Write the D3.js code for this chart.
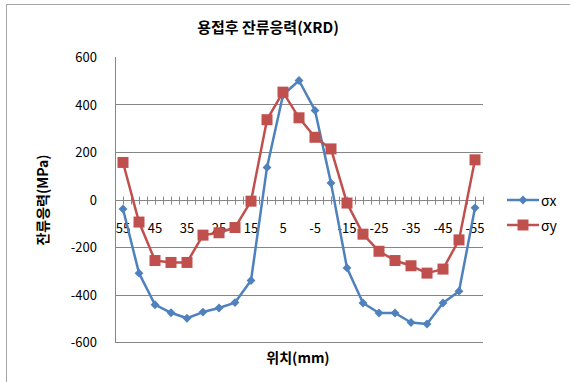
<!DOCTYPE html>
<html>
<head>
<meta charset="utf-8">
<script src="https://cdn.jsdelivr.net/npm/d3@7"></script>
<style>
  body { margin: 0; background: #fff; }
  svg { font-family: "Noto Sans CJK KR", "DejaVu Sans", sans-serif; }
</style>
</head>
<body>
<div id="chart"></div>
<script>
// positions in mm, 5 mm step
const positions = [55, 50, 45, 40, 35, 30, 25, 20, 15, 10, 5, 0, -5, -10, -15, -20, -25, -30, -35, -40, -45, -50, -55];
const sigmaX = [-40, -310, -443, -477, -500, -474, -457, -434, -341, 135, 440, 501, 375, 69, -288, -436, -478, -478, -518, -524, -436, -386, -35];
const sigmaY = [156, -95, -257, -265, -265, -150, -140, -118, -7, 336, 452, 344, 262, 213, -15, -146, -218, -257, -279, -310, -293, -170, 167];
const yTicks = [-600, -400, -200, 0, 200, 400, 600];
const shownLabels = [55, 45, 35, 25, 15, 5, -5, -15, -25, -35, -45, -55];

const W = 570, H = 382;
const plot = {left: 115, right: 483, top: 57, bottom: 342};

const svg = d3.select("#chart").append("svg")
  .attr("width", W).attr("height", H);

// outer frame
svg.append("rect")
  .attr("x", 6.5).attr("y", 4.5)
  .attr("width", 570).attr("height", 380)
  .attr("fill", "none").attr("stroke", "#a6a6a6");

const x = d3.scaleBand().domain(positions).range([plot.left, plot.right]);
const cx = d => x(d) + x.bandwidth() / 2;
const y = d3.scaleLinear().domain([-600, 600]).range([plot.bottom, plot.top]);

// gridlines
svg.append("g").selectAll("line")
  .data(yTicks.filter(v => v !== 0 && v !== 600))
  .join("line")
  .attr("x1", plot.left).attr("x2", plot.right)
  .attr("y1", d => Math.round(y(d)) + 0.5).attr("y2", d => Math.round(y(d)) + 0.5)
  .attr("stroke", "#868686").attr("stroke-width", 1);

// y axis line
svg.append("line")
  .attr("x1", plot.left + 0.5).attr("x2", plot.left + 0.5)
  .attr("y1", plot.top).attr("y2", plot.bottom)
  .attr("stroke", "#868686");

// y tick labels
svg.append("g").selectAll("text")
  .data(yTicks)
  .join("text")
  .attr("x", 97).attr("y", d => y(d) + 5)
  .attr("text-anchor", "end")
  .style("font-size", "13px")
  .attr("fill", "#000")
  .text(d => d);

// x axis line at 0
const y0 = Math.round(y(0)) + 0.5;
svg.append("line")
  .attr("x1", plot.left).attr("x2", plot.right)
  .attr("y1", y0).attr("y2", y0)
  .attr("stroke", "#868686");

// tick marks: category boundaries and centers
const tickXs = [];
positions.forEach(p => { tickXs.push(x(p)); tickXs.push(cx(p)); });
tickXs.push(plot.right);
svg.append("g").selectAll("line")
  .data(tickXs.slice(1))
  .join("line")
  .attr("x1", d => Math.round(d) + 0.5).attr("x2", d => Math.round(d) + 0.5)
  .attr("y1", y0 - 4).attr("y2", y0 + 4)
  .attr("stroke", "#868686");

// x tick labels
svg.append("g").selectAll("text")
  .data(shownLabels)
  .join("text")
  .attr("x", d => cx(d)).attr("y", y0 + 32)
  .attr("text-anchor", "middle")
  .style("font-size", "13px")
  .text(d => d);

// series
const series = [
  {name: "σx", values: sigmaX, color: "#4F81BD", marker: "diamond"},
  {name: "σy", values: sigmaY, color: "#C0504D", marker: "square"}
];

const line = d3.line()
  .x((d, i) => cx(positions[i]))
  .y(d => y(d));

series.forEach(s => {
  svg.append("path")
    .datum(s.values)
    .attr("d", line)
    .attr("fill", "none")
    .attr("stroke", s.color)
    .attr("stroke-width", 2.5)
    .attr("stroke-linejoin", "round");
});

function drawMarker(g, type, color, px, py) {
  if (type === "square") {
    g.append("rect")
      .attr("x", px - 5.5).attr("y", py - 5.5)
      .attr("width", 11).attr("height", 11)
      .attr("fill", color);
  } else {
    g.append("path")
      .attr("d", d3.symbol(d3.symbolDiamond2, 50)())
      .attr("transform", `translate(${px},${py})`)
      .attr("fill", color);
  }
}

series.forEach(s => {
  const g = svg.append("g");
  s.values.forEach((v, i) => drawMarker(g, s.marker, s.color, cx(positions[i]), y(v)));
});

// legend
series.forEach((s, i) => {
  const ly = 200 + i * 25;
  svg.append("line")
    .attr("x1", 507).attr("x2", 539)
    .attr("y1", ly).attr("y2", ly)
    .attr("stroke", s.color).attr("stroke-width", 2.5);
  drawMarker(svg.append("g"), s.marker, s.color, 523, ly);
  svg.append("text")
    .attr("x", 541).attr("y", ly + 6)
    .style("font-size", "14px")
    .text(s.name);
});

// title
svg.append("text")
  .attr("x", 268).attr("y", 33)
  .attr("text-anchor", "middle")
  .style("font-size", "15px")
  .style("font-weight", "bold")
  .text("용접후 잔류응력(XRD)");

// axis titles
svg.append("text")
  .attr("transform", "translate(48,200) rotate(-90)")
  .attr("text-anchor", "middle")
  .style("font-size", "14px")
  .style("font-weight", "bold")
  .text("잔류응력(MPa)");

svg.append("text")
  .attr("x", 298).attr("y", 363)
  .attr("text-anchor", "middle")
  .style("font-size", "14px")
  .style("font-weight", "bold")
  .text("위치(mm)");
</script>
</body>
</html>
